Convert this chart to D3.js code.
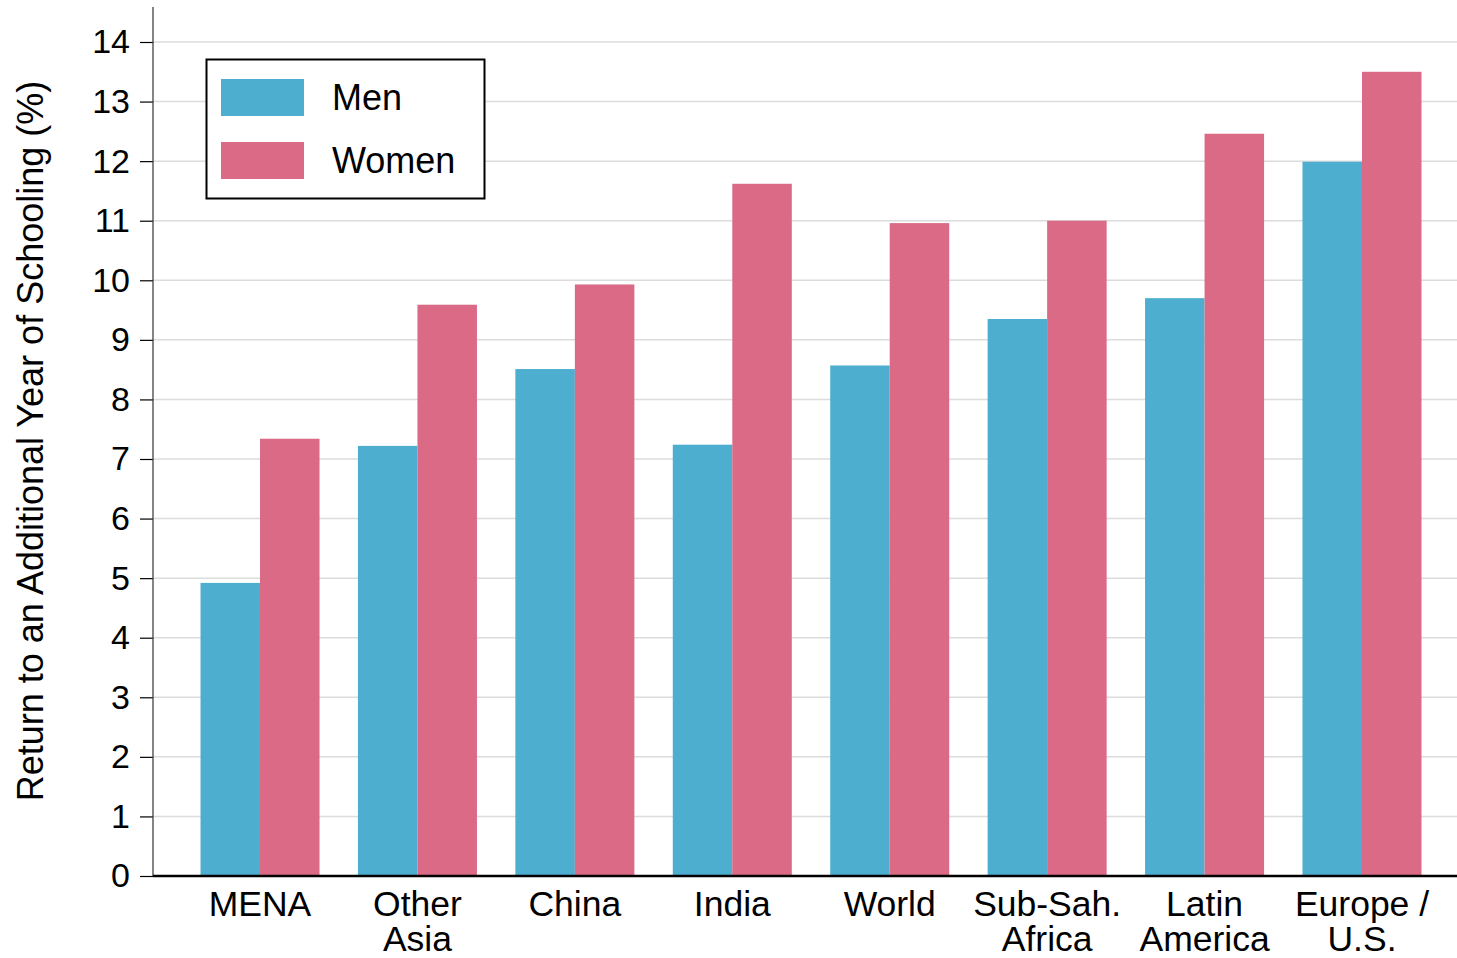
<!DOCTYPE html>
<html><head><meta charset="utf-8">
<script src="https://cdn.jsdelivr.net/npm/d3@7"></script>
<style>body{margin:0;background:#fff;} svg{display:block;font-family:"Liberation Sans",Arial,sans-serif;}</style>
</head><body>
<svg id="c" width="1457" height="958"></svg>
<script>
const categories = ["MENA", "Other\nAsia", "China", "India", "World", "Sub-Sah.\nAfrica", "Latin\nAmerica", "Europe /\nU.S."];
const seriesNames = ["Men", "Women"];
const men =   [4.92, 7.22, 8.51, 7.24, 8.57, 9.35, 9.70, 11.99];
const women = [7.34, 9.59, 9.93, 11.62, 10.96, 11.00, 12.46, 13.50];
const yTicks = [0,1,2,3,4,5,6,7,8,9,10,11,12,13,14];
const colors = ["#4EAED0", "#DA6A86"];

const svg = d3.select("#c");
const x0 = 153, yBase = 876;
const y = d3.scaleLinear().domain([0, 14]).range([yBase, 42]);
const step = 157.4;
const x = d3.scaleBand().domain(categories)
  .range([260 - step/2, 1362 + step/2]).paddingInner(0.244).paddingOuter(0.122);
const xs = d3.scaleBand().domain(seriesNames).range([0, x.bandwidth()]);

// grid
svg.append("g").selectAll("line").data(yTicks.slice(1)).join("line")
  .attr("x1", x0).attr("x2", 1457).attr("y1", d => y(d)).attr("y2", d => y(d))
  .attr("stroke", "#dcdcdc").attr("stroke-width", 1.5);

// bars
const data = categories.map((c, i) => ({c, vals: [men[i], women[i]]}));
const g = svg.append("g").selectAll("g").data(data).join("g")
  .attr("transform", d => `translate(${x(d.c)},0)`);
g.selectAll("rect").data(d => d.vals.map((v, j) => ({v, s: seriesNames[j], j}))).join("rect")
  .attr("x", d => xs(d.s)).attr("width", xs.bandwidth())
  .attr("y", d => y(d.v)).attr("height", d => yBase - y(d.v))
  .attr("fill", d => colors[d.j]);

// y axis
const yAxis = svg.append("g").attr("transform", `translate(${x0},0)`)
  .call(d3.axisLeft(y).tickValues(yTicks).tickSize(13).tickPadding(10).tickFormat(d3.format("d")));
yAxis.select(".domain").remove();
yAxis.selectAll(".tick line").attr("stroke", "#000").attr("stroke-width", 1.2);
yAxis.selectAll(".tick text").attr("font-size", 34).attr("fill", "#000")
  .attr("font-family", "Liberation Sans, Arial, sans-serif");
svg.append("line").attr("x1", x0).attr("x2", x0).attr("y1", 7).attr("y2", yBase)
  .attr("stroke", "#333").attr("stroke-width", 1.2);

// x axis baseline
svg.append("line").attr("x1", x0).attr("x2", 1457).attr("y1", yBase).attr("y2", yBase)
  .attr("stroke", "#000").attr("stroke-width", 2.5);

// x labels
const xl = svg.append("g").selectAll("text").data(categories).join("text")
  .attr("text-anchor", "middle").attr("font-size", 35.5).attr("fill", "#000")
  .attr("transform", d => `translate(${x(d) + x.bandwidth()/2},916)`);
xl.selectAll("tspan").data(d => d.split("\n")).join("tspan")
  .attr("x", 0).attr("dy", (d, i) => i === 0 ? 0 : 35).text(d => d);

// y title
svg.append("text").attr("transform", "translate(43,441) rotate(-90)")
  .attr("text-anchor", "middle").attr("font-size", 36).attr("fill", "#000")
  .text("Return to an Additional Year of Schooling (%)");

// legend
const lg = svg.append("g");
lg.append("rect").attr("x", 206.5).attr("y", 59.5).attr("width", 278).attr("height", 139)
  .attr("fill", "#fff").attr("stroke", "#000").attr("stroke-width", 2);
seriesNames.forEach((s, i) => {
  lg.append("rect").attr("x", 221).attr("y", 79 + i*63).attr("width", 83).attr("height", 37).attr("fill", colors[i]);
  lg.append("text").attr("x", 332).attr("y", 110 + i*63).attr("font-size", 36).attr("fill", "#000").text(s);
});
</script>
</body></html>
